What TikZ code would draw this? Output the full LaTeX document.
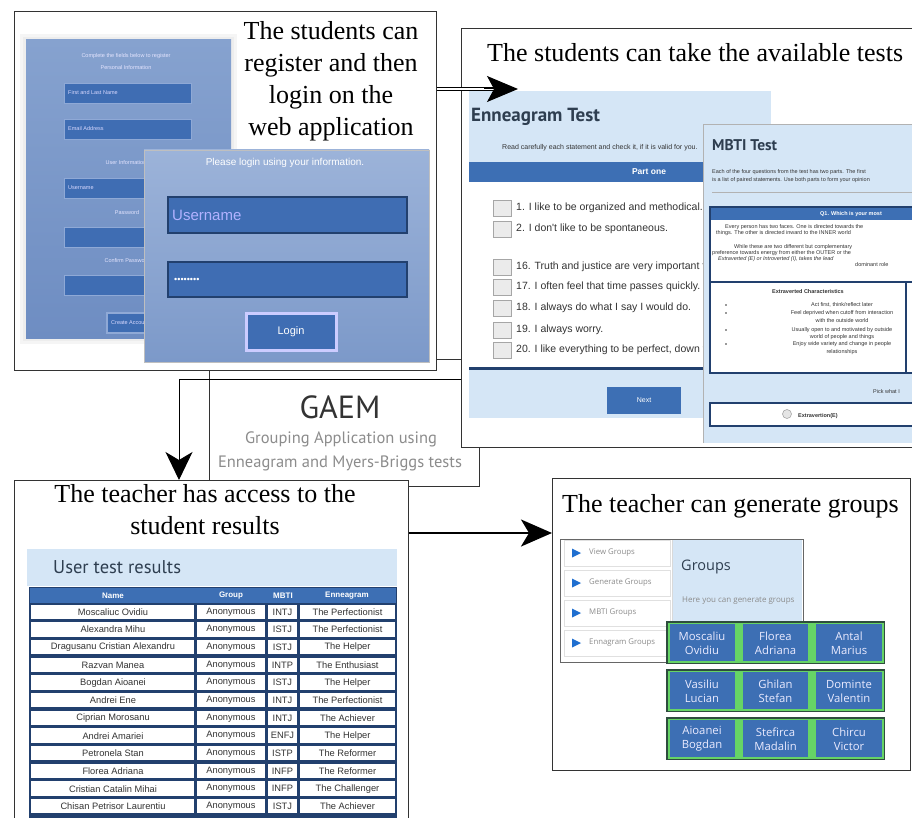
\documentclass[tikz,border=0pt]{standalone}
\usepackage{fontspec}
\setmainfont{Liberation Serif}
\newfontfamily\ui{Liberation Sans}
\newfontfamily\pts{PT Sans}
\newfontfamily\os{Open Sans}
\usetikzlibrary{arrows.meta}
\definecolor{frame}{HTML}{333333}
\definecolor{lb}{HTML}{D5E6F6}
\definecolor{ublue}{HTML}{3D6FB4}
\definecolor{navy}{HTML}{22406E}
\definecolor{pnlT}{HTML}{86A2CF}
\definecolor{pnlB}{HTML}{6E8DC2}
\definecolor{logT}{HTML}{9CB3D9}
\definecolor{logB}{HTML}{7C99C9}
\definecolor{fld}{HTML}{3F6DB3}
\definecolor{fldB}{HTML}{8FA9D6}
\definecolor{grn}{HTML}{66D466}
\definecolor{rim}{HTML}{2E4D3E}
\definecolor{gtxt}{HTML}{8C8C8C}
\definecolor{dtxt}{HTML}{333333}
\definecolor{head}{HTML}{2E3E50}
\definecolor{tri}{HTML}{1F6FD0}
\begin{document}
\begin{tikzpicture}[x=1pt,y=-1pt,
  box/.style={draw=frame,line width=1.3pt,fill=white,inner sep=0pt,anchor=north west},
  ttl/.style={font=\fontsize{26}{32}\selectfont,align=center,inner sep=0pt,text=black},
  tx/.style={inner sep=0pt},
  arr/.style={line width=1pt,-{Stealth[length=28pt,width=27pt,inset=8pt]}},
  bigarr/.style={line width=2.6pt,-{Stealth[length=31pt,width=27pt,inset=8pt]}},
  dblline/.style={line width=0.9pt,double=white,double distance=2.4pt},
  headonly/.style={line width=1pt,-{Stealth[length=31pt,width=26pt,inset=7pt]}},
  fldtx/.style={tx,anchor=west,text=white!85!blue,font=\ui\fontsize{5.5}{6}\selectfont},
  regtx/.style={tx,text=white!90!blue,font=\ui\fontsize{5.5}{6}\selectfont},
  itm/.style={tx,anchor=west,text=dtxt,font=\ui\fontsize{10.5}{11}\selectfont},
  mb/.style={tx,text=dtxt,font=\ui\fontsize{5.5}{6}\selectfont},
  cell/.style={tx,text=dtxt,font=\ui\fontsize{9.3}{10}\selectfont},
  thd/.style={tx,text=white,font=\ui\bfseries\fontsize{8}{9}\selectfont},
  gname/.style={tx,align=center,text=white!92!blue,font=\os\fontsize{11.3}{14}\selectfont},
  menu/.style={tx,anchor=west,text=gtxt,font=\os\fontsize{7.8}{9}\selectfont}]
\useasboundingbox (0,0) rectangle (912,818);
\clip (0,0) rectangle (912,818);
\fill[white] (0,0) rectangle (912,818);

% ---------------- GAEM box (behind) ----------------
\node[box,minimum width=270pt,minimum height=127pt] (gaem) at (209,359) {};
\node[tx,text=dtxt,font=\pts\fontsize{32}{34}\selectfont] (gt) at (340,407) {GAEM};
\node[tx,text=gtxt,font=\pts\fontsize{16.5}{18}\selectfont] (gs1) at (341,439) {Grouping Application using};
\node[tx,text=gtxt,font=\pts\fontsize{16.5}{18}\selectfont] (gs2) at (340,463) {Enneagram and Myers-Briggs tests};

% ---------------- Box 1 ----------------
\node[box,minimum width=422pt,minimum height=359pt] (b1) at (14,11) {};
\node[ttl,anchor=north] (t1) at (331,21) {The students can\\register and then\\login on the\\web application};
% registration panel
\fill[black!4] (20,34) rectangle (237,344);
\fill[black!7] (23,37) rectangle (234,341);
\shade[top color=pnlT,bottom color=pnlB] (26,40) rectangle (231,338);
\node[regtx] (r0) at (126,56) {Complete the fields below to register};
\node[regtx] (r1) at (126,68) {Personal Information};
\foreach \ya/\lab [count=\k] in {83/First and Last Name,119/Email Address,178/Username,227/,275/} {
  \fill[fld] (64,\ya) rectangle (191,\ya+20);
  \draw[fldB,line width=0.8pt] (64,\ya) rectangle (191,\ya+20);
  \node[fldtx] (rf\k) at (68,\ya+10) {\lab};
}
\node[regtx] (r2) at (126,163) {User Information};
\node[regtx] (r3) at (127,213) {Password};
\node[regtx] (r4) at (127,261) {Confirm Password};
\fill[fldB] (106,312) rectangle (150,334);
\fill[fld] (108,314) rectangle (148,332);
\node[fldtx,font=\ui\fontsize{5.5}{6}\selectfont] (r5) at (111,323) {Create Account};
% login panel
\shade[top color=logT,bottom color=logB] (144,150) rectangle (429,362);
\draw[black!25,line width=0.6pt] (144,150) rectangle (429,362);
\node[tx,text=white,font=\ui\fontsize{10}{11}\selectfont] (lp) at (285,163) {Please login using your information.};
\fill[fld] (168,197) rectangle (407,233);
\draw[navy,line width=1.3pt] (168,197) rectangle (407,233);
\node[tx,anchor=west,text=white!70!blue,font=\ui\fontsize{15}{16}\selectfont] (lu) at (172,215) {Username};
\fill[fld] (168,262) rectangle (407,297);
\draw[navy,line width=1.3pt] (168,262) rectangle (407,297);
\node[tx,anchor=west,text=white,font=\ui\fontsize{9}{10}\selectfont] (lw) at (174,280) {••••••••};
\fill[white!80!blue] (245,312) rectangle (338,352);
\fill[fld] (248,315) rectangle (335,349);
\node[tx,text=white,font=\ui\fontsize{11}{12}\selectfont] (lb) at (291,332) {Login};

% ---------------- Box 2 ----------------
\node[box,minimum width=480pt,minimum height=419pt] (b2) at (461,28) {};
\node[tx,anchor=base west,font=\fontsize{26}{32}\selectfont] (t2) at (487,62) {The students can take the available tests};
% Enneagram panel
\fill[lb] (469,91) rectangle (771,162);
\node[tx,anchor=west,text=head,font=\pts\bfseries\fontsize{19}{20}\selectfont] (en) at (471,117) {Enneagram Test};
\node[tx,anchor=west,text=dtxt,font=\ui\fontsize{7}{8}\selectfont] (ed) at (502,148) {Read carefully each statement and check it, if it is valid for you.};
\fill[ublue] (469,162) rectangle (771,182);
\node[tx,text=white,font=\ui\bfseries\fontsize{8.5}{9}\selectfont] (po) at (649,172) {Part one};
\foreach \yy/\q [count=\k] in {208/{1. I like to be organized and methodical.},229/{2. I don't like to be spontaneous.},267/{16. Truth and justice are very important to me.},287/{17. I often feel that time passes quickly.},308/{18. I always do what I say I would do.},330/{19. I always worry.},350/{20. I like everything to be perfect, down to the details.}} {
  \fill[black!8] (493,\yy-8) rectangle (511,\yy+8);
  \draw[black!35,line width=0.7pt] (493,\yy-8) rectangle (511,\yy+8);
  \node[itm] (q\k) at (516,\yy) {\q};
}
\fill[navy] (469,366.5) rectangle (771,369.5);
\fill[lb] (469,370) rectangle (771,418);
\fill[ublue] (607,387) rectangle (681,414);
\node[tx,text=white,font=\ui\fontsize{7}{8}\selectfont] (nx) at (644,400) {Next};
% MBTI panel
\fill[lb] (703,124) rectangle (930,443);
\draw[black!30,line width=0.8pt] (703,443) -- (703,124) -- (930,124);
\node[tx,anchor=west,text=head,font=\pts\bfseries\fontsize{15.5}{16}\selectfont] (mt) at (712,145) {MBTI Test};
\node[mb,anchor=west] (m1) at (712,172) {Each of the four questions from the test has two parts. The first};
\node[mb,anchor=west] (m2) at (712,180) {is a list of paired statements. Use both parts to form your opinion};
\draw[black!30,line width=0.6pt] (712,192) -- (930,192);
\fill[white] (710,207) rectangle (935,373);
\fill[ublue] (710,207) rectangle (935,220);
\draw[navy,line width=1.6pt] (710,207) rectangle (935,373);
\draw[navy,line width=1.6pt] (710,282) -- (935,282);
\draw[navy,line width=1.6pt] (906,282) -- (906,373);
\node[tx,anchor=west,text=white,font=\ui\bfseries\fontsize{5.5}{6}\selectfont] (mq) at (820,214) {Q1. Which is your most};
\node[mb,anchor=west] (p1) at (725,227) {Every person has two faces. One is directed towards the};
\node[mb,anchor=west] (p2) at (716,233) {things. The other is directed inward to the INNER world};
\node[mb,anchor=west] (p3) at (734,247) {While these are two different but complementary};
\node[mb,anchor=west] (p4) at (712,253) {preference towards energy from either the OUTER or the};
\node[mb,anchor=west,font=\ui\itshape\fontsize{5.5}{6}\selectfont] (p5) at (718,259) {Extraverted (E) or Introverted (I), takes the lead};
\node[mb,anchor=west] (p6) at (855,265) {dominant role};
\node[mb,font=\ui\bfseries\fontsize{5.5}{6}\selectfont] (ec) at (808,292) {Extraverted Characteristics};
\foreach \yy in {305,313,330,344} {\fill[dtxt] (726,\yy) circle (0.9pt);}
\node[mb] (e1) at (842,305) {Act first, think/reflect later};
\node[mb] (e2) at (842,313) {Feel deprived when cutoff from interaction};
\node[mb] (e3) at (842,321) {with the outside world};
\node[mb] (e4) at (842,330) {Usually open to and motivated by outside};
\node[mb] (e5) at (842,337) {world of people and things};
\node[mb] (e6) at (842,344) {Enjoy wide variety and change in people};
\node[mb] (e7) at (842,352) {relationships};
\node[mb,anchor=west] (pk) at (873,392) {Pick what I};
\fill[white] (710,403) rectangle (935,426);
\draw[navy,line width=2pt] (710,403) rectangle (935,426);
\fill[black!10] (787,414) circle (4.5pt);
\draw[black!35,line width=0.6pt] (787,414) circle (4.5pt);
\node[mb,anchor=west,font=\ui\bfseries\fontsize{5.5}{6}\selectfont] (ex) at (798,416) {Extravertion(E)};

% ---------------- Box 3 ----------------
\node[box,minimum width=394pt,minimum height=360pt] (b3) at (14,480) {};
\node[ttl,anchor=north] (t3) at (205,484) {The teacher has access to the\\student results};
\fill[lb] (27,549) rectangle (397,586);
\node[tx,anchor=west,text=head,font=\pts\fontsize{18.5}{19}\selectfont] (ut) at (53,567) {User test results};
\fill[navy] (29,587) rectangle (397,830);
\fill[ublue] (30,588) rectangle (396,603);
\node[thd] (h1) at (113,595.5) {Name};
\node[thd] (h2) at (231,595.5) {Group};
\node[thd] (h3) at (283,595.5) {MBTI};
\node[thd] (h4) at (347,595.5) {Enneagram};
\foreach \nm/\mbt/\en [count=\i from 0] in {Moscaliuc Ovidiu/INTJ/The Perfectionist,Alexandra Mihu/ISTJ/The Perfectionist,Dragusanu Cristian Alexandru/ISTJ/The Helper,Razvan Manea/INTP/The Enthusiast,Bogdan Aioanei/ISTJ/The Helper,Andrei Ene/INTJ/The Perfectionist,Ciprian Morosanu/INTJ/The Achiever,Andrei Amariei/ENFJ/The Helper,Petronela Stan/ISTP/The Reformer,Florea Adriana/INFP/The Reformer,Cristian Catalin Mihai/INFP/The Challenger,Chisan Petrisor Laurentiu/ISTJ/The Achiever} {
  \pgfmathsetmacro\ty{604.5+17.67*\i}
  \fill[white] (31,\ty) rectangle (194,\ty+14.5);
  \fill[white] (197,\ty) rectangle (265,\ty+14.5);
  \fill[white] (268,\ty) rectangle (297,\ty+14.5);
  \fill[white] (300,\ty) rectangle (395,\ty+14.5);
  \node[cell] (n\i) at (113,\ty+7.5) {\nm};
  \node[cell] (g\i) at (231,\ty+7.5) {Anonymous};
  \node[cell] (m\i) at (282.5,\ty+7.5) {\mbt};
  \node[cell] (k\i) at (347.5,\ty+7.5) {\en};
}

% ---------------- Box 4 ----------------
\node[box,minimum width=358pt,minimum height=292pt] (b4) at (552,478) {};
\node[tx,anchor=base west,font=\fontsize{26}{32}\selectfont] (t4) at (562,512) {The teacher can generate groups};
\fill[white] (560,539) rectangle (803,662);
\fill[lb] (672,540) rectangle (802,661);
\draw[black!60,line width=1pt] (560,539) rectangle (803,662);
\draw[black!15,line width=0.8pt] (672,540) -- (672,661);
\foreach \yy/\lab [count=\k] in {553/View Groups,583/Generate Groups,613/MBTI Groups,643/Ennagram Groups} {
  \draw[black!12,line width=0.8pt] (564,\yy-13) rectangle (670,\yy+13);
  \fill[tri] (572,\yy-4.5) -- (581,\yy) -- (572,\yy+4.5) -- cycle;
  \node[menu] (mn\k) at (589,\yy) {\lab};
}
\node[tx,anchor=west,text=head,font=\os\fontsize{14.5}{15}\selectfont] (gr) at (681,567) {Groups};
\node[tx,anchor=west,text=gtxt,font=\os\fontsize{8}{9}\selectfont] (gh) at (682,601) {Here you can generate groups};
\foreach \top/\a/\b/\c/\d/\e/\f [count=\r] in {621/Moscaliu/Ovidiu/Florea/Adriana/Antal/Marius,669/Vasiliu/Lucian/Ghilan/Stefan/Dominte/Valentin,717/Aioanei/Bogdan/Stefirca/Madalin/Chircu/Victor} {
  \fill[rim] (666,\top) rectangle (885,\top+43);
  \fill[grn] (667.5,\top+1.5) rectangle (883.5,\top+41.5);
  \fill[ublue] (669.5,\top+3) rectangle (735,\top+40);
  \fill[ublue] (743,\top+3) rectangle (808,\top+40);
  \fill[ublue] (816,\top+3) rectangle (881.5,\top+40);
  \node[gname] (ga\r) at (702,\top+22) {\a\\\b};
  \node[gname] (gb\r) at (775.5,\top+22) {\c\\\d};
  \node[gname] (gc\r) at (849,\top+22) {\e\\\f};
}

% ---------------- Connectors ----------------
\coordinate (e1) at (518,89);
\coordinate (e0) at (494,89);
\coordinate (j1) at (179,379);
\coordinate (j2) at (0,533);
\draw[dblline] (b1.east |- e1) -- (e0);
\draw[headonly] ([xshift=-10pt]e0) -- (e1);
\draw[arr] (b2.west |- j1) -- (j1) -- (j1 |- b3.north);
\draw[bigarr] (b3.east |- j2) -- (b4.west |- j2);
\end{tikzpicture}
\end{document}
